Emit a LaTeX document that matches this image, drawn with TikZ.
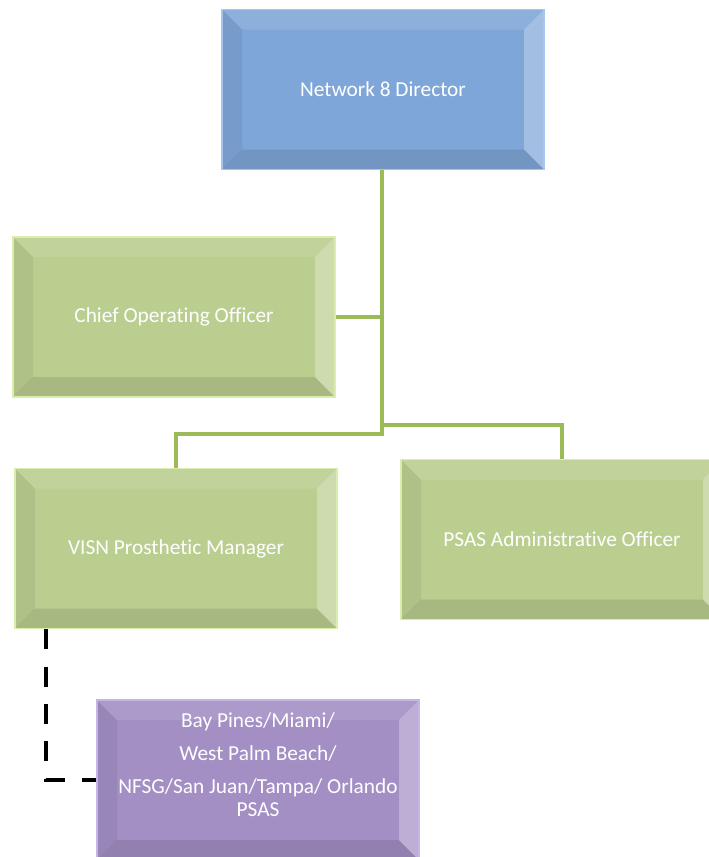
\documentclass[tikz,border=0pt]{standalone}
\usepackage{fontspec}
\setmainfont{Carlito}[Ligatures=NoCommon]

\definecolor{dirblue}{RGB}{127,166,216}
\definecolor{dirbluerim}{RGB}{165,198,240}
\definecolor{staffgreen}{RGB}{186,206,144}
\definecolor{staffgreenrim}{RGB}{218,238,172}
\definecolor{sitepurple}{RGB}{163,143,196}
\definecolor{sitepurplerim}{RGB}{198,180,230}
\definecolor{linkgreen}{RGB}{155,187,89}

\newcommand\bevelfaces{%
  \coordinate (bnw) at (path picture bounding box.north west);
  \coordinate (bne) at (path picture bounding box.north east);
  \coordinate (bsw) at (path picture bounding box.south west);
  \coordinate (bse) at (path picture bounding box.south east);
  \fill[black,opacity=.06] (bnw) -- ([shift={(15pt,-15pt)}]bnw) -- ([shift={(15pt,15pt)}]bsw) -- (bsw) -- cycle;
  \fill[black,opacity=.10] (bsw) -- ([shift={(15pt,15pt)}]bsw) -- ([shift={(-15pt,15pt)}]bse) -- (bse) -- cycle;
  \fill[white,opacity=.10] (bnw) -- ([shift={(15pt,-15pt)}]bnw) -- ([shift={(-15pt,-15pt)}]bne) -- (bne) -- cycle;
  \fill[white,opacity=.28] (bne) -- ([shift={(-15pt,-15pt)}]bne) -- ([shift={(-15pt,15pt)}]bse) -- (bse) -- cycle;
}

\begin{document}
\begin{tikzpicture}[x=0.75pt,y=-0.75pt,
  orgbox/.style={rectangle,inner sep=0pt,minimum width=241.5pt,minimum height=120pt,
    text=white,font=\fontsize{16}{19}\selectfont,line width=1pt,path picture={\bevelfaces}},
  dirbox/.style={orgbox,fill=dirblue,draw=dirbluerim},
  staffbox/.style={orgbox,fill=staffgreen,draw=staffgreenrim},
  sitebox/.style={orgbox,fill=sitepurple,draw=sitepurplerim},
  link/.style={draw=linkgreen,line width=3pt},
  dashlink/.style={draw=black,line width=3pt,dash pattern=on 15pt off 13pt}]
\useasboundingbox (0,0) rectangle (709,857);

\node[dirbox] (dir) at (383,89.5) {Network 8 Director};
\node[staffbox] (coo) at (174,317) {Chief Operating Officer};
\node[staffbox] (visn) at (176,548.5) {VISN Prosthetic Manager};
\node[staffbox] (admin) at (562,539.5) {PSAS Administrative Officer};
\node[sitebox] (sites) at (258,780) {};
\node[text=white,font=\fontsize{16}{17.25}\selectfont,align=center,anchor=north] (sitenames) at (258,708)
  {Bay Pines/Miami/\\[7.5pt] West Palm Beach/\\[7.5pt] NFSG/San Juan/Tampa/ Orlando\\ PSAS};

\coordinate (rbranch) at (382,425);
\coordinate (lbranch) at (382,434);
\draw[link] (dir.south -| lbranch) -- (lbranch) -| (visn.north);
\draw[link] (rbranch) -| (admin.north);
\draw[link] (coo.east) -- (coo.east -| lbranch);
\draw[dashlink] ([xshift=24pt]visn.south west) |- (sites.west);
\end{tikzpicture}
\end{document}
